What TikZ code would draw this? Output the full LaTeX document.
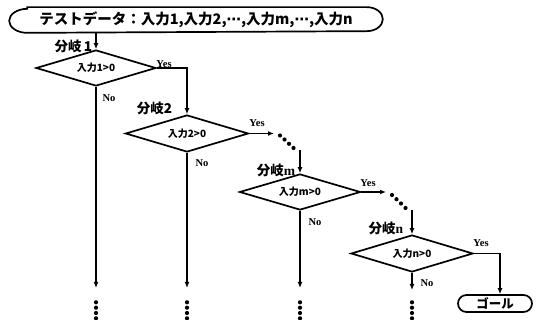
\documentclass[tikz,border=0pt]{standalone}
\usepackage{fontspec}
\setmainfont{Liberation Serif}
\newfontfamily\jp{Noto Sans CJK JP}
\newfontfamily\dv{DejaVu Sans}
\usetikzlibrary{shapes.geometric,shapes.misc,arrows.meta}
\begin{document}
\begin{tikzpicture}[x=1pt,y=-1pt, line width=1.7pt,
  >={Latex[length=6pt,width=5pt]},
  dec/.style={diamond, draw, inner sep=0pt, aspect=3.3, font=\jp\bfseries\fontsize{10}{10}\selectfont},
  lab/.style={font=\jp\bfseries\fontsize{13.5}{13.5}\selectfont, inner sep=0pt, anchor=east},
  yn/.style={font=\bfseries\fontsize{10.5}{10.5}\selectfont, inner sep=0pt},
  dot/.style={circle, fill, inner sep=0pt, minimum size=4.2pt}]
\useasboundingbox (0,0) rectangle (536,320);
% start
\node[inner sep=0pt, minimum width=372pt, minimum height=24pt,
  font=\jp\bfseries\fontsize{14.5}{15}\selectfont] (start) at (196,20)
  {テストデータ：入力1,入力2,{\dv\bfseries ⋯},入力m,{\dv\bfseries ⋯},入力n};
\draw ([xshift=18pt]start.north west) -- ([xshift=-16pt]start.north east)
  arc[start angle=90,end angle=-90,x radius=16pt,y radius=12pt]
  -- ([xshift=18pt]start.south west)
  arc[start angle=270,end angle=90,x radius=18pt,y radius=12pt] -- cycle;
% decisions
\node[dec, minimum width=120pt, minimum height=36pt] (d1) at (96,68) {入力1>0};
\node[dec, minimum width=123pt, minimum height=37pt] (d2) at (187,133.5) {入力2>0};
\node[dec, minimum width=121pt, minimum height=36pt] (dm) at (300,192) {入力m>0};
\node[dec, minimum width=122pt, minimum height=37pt] (dn) at (412,253.5) {入力n>0};
\node[rounded rectangle, draw, minimum width=74pt, minimum height=17pt, inner sep=0pt,
  font=\jp\bfseries\fontsize{12.5}{12.5}\selectfont] (goal) at (495,303.5) {ゴール};
% branch labels
\node[lab] (l1) at (93,46) {分岐\,1};
\node[lab] (l2) at (173,108) {分岐2};
\node[lab] (lm) at (296,170) {分岐{\rmfamily m}};
\node[lab] (ln) at (404,228) {分岐{\rmfamily n}};
% yes/no labels
\node[yn] (y1) at (164,64) {Yes};
\node[yn] (y2) at (257,123) {Yes};
\node[yn] (y3) at (368,183) {Yes};
\node[yn] (y4) at (481,243) {Yes};
\node[yn] (n1) at (109,98) {No};
\node[yn] (n2) at (202,163) {No};
\node[yn] (n3) at (315,222) {No};
\node[yn] (n4) at (427,283) {No};
% coordinates
\coordinate (c1) at (96,288);
\coordinate (c2) at (187,288);
\coordinate (cm) at (300,288);
\coordinate (cn) at (412,290);
\coordinate (e2) at (274,133.5);
\coordinate (v2) at (300,150);
\coordinate (em) at (386,192);
\coordinate (vm) at (412,210);
% connectors
\draw[->] (start.south -| d1.north) -- (d1.north);
\draw[->] (d1.east) -| (d2.north);
\draw[->] (d1.south) -- (c1);
\draw[->] (d2.south) -- (c2);
\draw[->] (dm.south) -- (cm);
\draw[->] (dn.south) -- (cn);
\draw[->] (d2.east) -- (e2);
\draw[->] (v2) -- (dm.north);
\draw[->] (dm.east) -- (em);
\draw[->] (vm) -- (dn.north);
\draw[->] (dn.east) -| ([xshift=5pt]goal.north);
% dots
\foreach \x/\n in {96/a,187/b,300/c,412/d}
  \foreach \y [count=\i] in {302.3,307.7,313,318.3}
    \node[dot] (\n\i) at (\x,\y) {};
\foreach \x/\y [count=\i] in {280/135.5,284.5/139.5,289/143.8,293.5/148}
  \node[dot] (p\i) at (\x,\y) {};
\foreach \x/\y [count=\i] in {392/195,396.5/199.2,401/203.5,405.5/208}
  \node[dot] (q\i) at (\x,\y) {};
\end{tikzpicture}
\end{document}
